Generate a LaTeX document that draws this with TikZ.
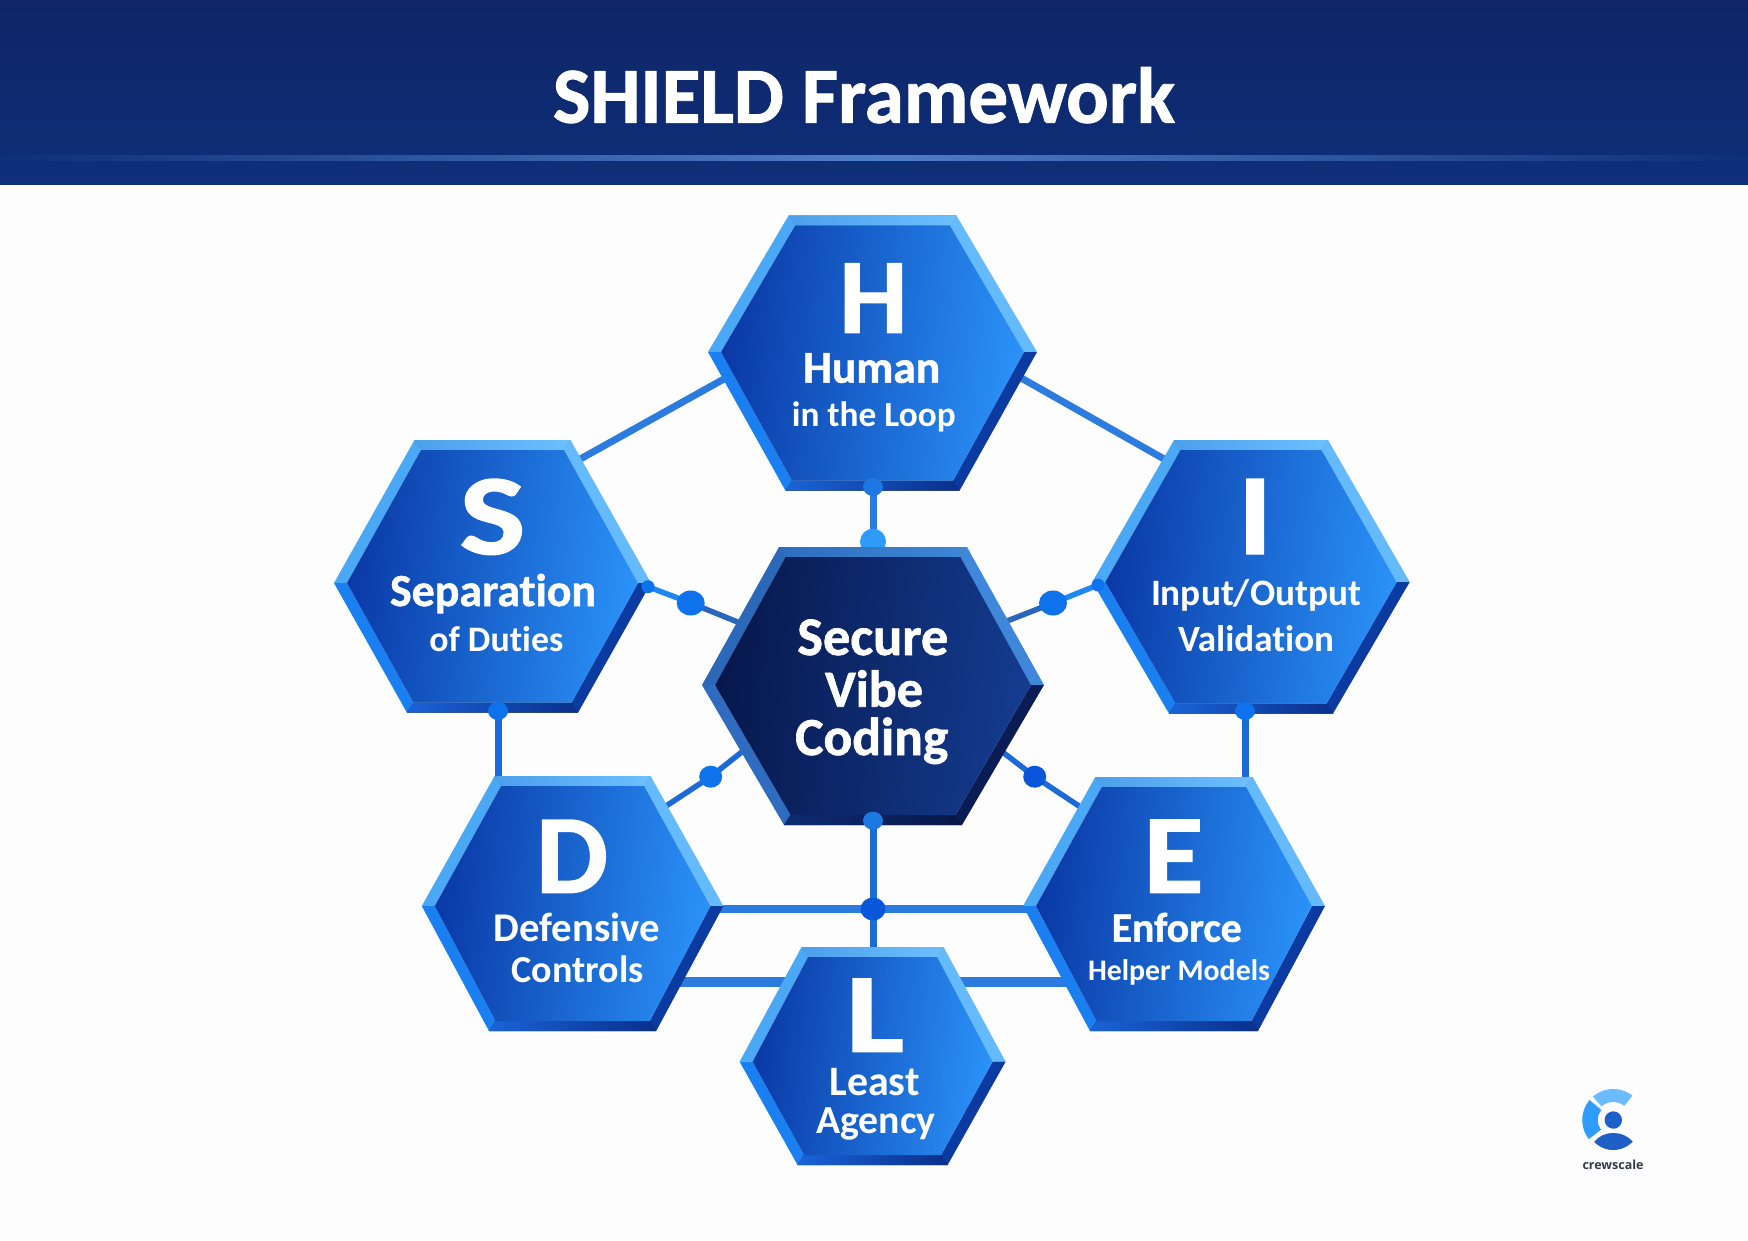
\documentclass[tikz,border=0pt]{standalone}
\usepackage{graphicx}
\usepackage{fontspec}
\setmainfont{Carlito}[Ligatures=NoCommon,BoldFeatures={FakeBold=1.2}]
\newfontfamily\sublabelfont{Carlito}[Ligatures=NoCommon]
\newfontfamily\logofont{Open Sans}
\usetikzlibrary{shapes.geometric,calc}
% blue palette
\definecolor{hbTopL}{HTML}{4C9FEA}\definecolor{hbTopR}{HTML}{6CC0FF}
\definecolor{hbUL}{HTML}{4BA8F4}\definecolor{hbUR}{HTML}{64BAFB}
\definecolor{hbLL}{HTML}{1A80F2}\definecolor{hbLR}{HTML}{0B3AA0}
\definecolor{hbBotL}{HTML}{1A63D8}\definecolor{hbBotR}{HTML}{0A2F8A}
\definecolor{hbInL}{HTML}{0A39A6}\definecolor{hbInR}{HTML}{2A92F8}
% navy palette
\definecolor{hdTopL}{HTML}{2E6EBE}\definecolor{hdTopR}{HTML}{3E86D6}
\definecolor{hdUL}{HTML}{2B68B8}\definecolor{hdUR}{HTML}{3F87DA}
\definecolor{hdLL}{HTML}{2F6CBF}\definecolor{hdLR}{HTML}{0A1C54}
\definecolor{hdBotL}{HTML}{0E2C72}\definecolor{hdBotR}{HTML}{071848}
\definecolor{hdInL}{HTML}{07184C}\definecolor{hdInR}{HTML}{143C90}
\definecolor{pagebg}{HTML}{FDFDFE}
\definecolor{bandTop}{HTML}{0F2565}\definecolor{bandBot}{HTML}{0E2F7A}
\definecolor{bandGlow}{HTML}{507EC6}
\definecolor{linkA}{HTML}{2C7BDE}\definecolor{linkB}{HTML}{1C6AD8}
\definecolor{linkC}{HTML}{2A66BC}\definecolor{linkD}{HTML}{1E88EE}
\definecolor{dotA}{HTML}{0D72EC}\definecolor{dotB}{HTML}{0A56DA}
\definecolor{dotC}{HTML}{1E78E2}\definecolor{dotD}{HTML}{2E9BF8}
\definecolor{logoLight}{HTML}{6ABBFF}\definecolor{logoMid}{HTML}{2E9BFF}
\definecolor{logoDark}{HTML}{1E5FC8}\definecolor{logoText}{HTML}{343A48}
\newcommand\bvx{13}\newcommand\bvy{10}\newcommand\bvt{6.5}
% name, cx, midy, halfwidth, top, bottom, top half, bottom half
\newcommand\hexdef[8]{%
  \coordinate (#1-l) at ({#2-#4},#3);
  \coordinate (#1-r) at ({#2+#4},#3);
  \coordinate (#1-tl) at ({#2-#7},#5);
  \coordinate (#1-tr) at ({#2+#7},#5);
  \coordinate (#1-bl) at ({#2-#8},#6);
  \coordinate (#1-br) at ({#2+#8},#6);
  \coordinate (#1-il) at ({#2-#4+\bvx},#3);
  \coordinate (#1-ir) at ({#2+#4-\bvx},#3);
  \coordinate (#1-itl) at ({#2-#7+\bvt},{#5+\bvy});
  \coordinate (#1-itr) at ({#2+#7-\bvt},{#5+\bvy});
  \coordinate (#1-ibl) at ({#2-#8+\bvt},{#6-\bvy});
  \coordinate (#1-ibr) at ({#2+#8-\bvt},{#6-\bvy});
  \node[hexbox,minimum width={2*#4*1pt},minimum height={(#6-#5)*1pt}] (#1) at (#2,{(#5+#6)/2}) {};
}
\newcommand\hexdraw[2]{%
  \fill[left color=#2TopL,right color=#2TopR] (#1-tl)--(#1-tr)--(#1-itr)--(#1-itl)--cycle;
  \fill[#2UL] (#1-l)--(#1-tl)--(#1-itl)--(#1-il)--cycle;
  \fill[#2UR] (#1-tr)--(#1-r)--(#1-ir)--(#1-itr)--cycle;
  \fill[#2LL] (#1-l)--(#1-il)--(#1-ibl)--(#1-bl)--cycle;
  \fill[#2LR] (#1-r)--(#1-br)--(#1-ibr)--(#1-ir)--cycle;
  \fill[left color=#2BotL,right color=#2BotR] (#1-bl)--(#1-br)--(#1-ibr)--(#1-ibl)--cycle;
  \shade[left color=#2InL,right color=#2InR,shading angle=84] (#1-il)--(#1-itl)--(#1-itr)--(#1-ir)--(#1-ibr)--(#1-ibl)--cycle;
}
\newcommand\fw[2]{\resizebox{#1pt}{!}{\fontsize{40}{48}\selectfont\bfseries #2}}
\newcommand\fws[2]{\resizebox{#1pt}{!}{\fontsize{40}{48}\sublabelfont\selectfont\bfseries #2}}
\newcommand\fwh[3]{\resizebox{#1pt}{#2pt}{\fontsize{40}{48}\selectfont\bfseries #3}}
\tikzset{
  hexbox/.style={rectangle,inner sep=0pt,draw=none,fill=none},
  lbl/.style={text=white,anchor=base,inner sep=0pt,outer sep=0pt},
  link/.style={line width=#1,line cap=butt},
  bigdot/.style={ellipse,inner sep=0pt,outer sep=0pt,minimum width=28pt,minimum height=25pt},
  meddot/.style={ellipse,inner sep=0pt,outer sep=0pt,minimum width=23pt,minimum height=22pt},
  smalldot/.style={ellipse,inner sep=0pt,outer sep=0pt,minimum width=20pt,minimum height=18pt},
}
\begin{document}
\begin{tikzpicture}[x=1pt,y=-1pt]
\useasboundingbox (0,0) rectangle (1748,1240);
\fill[pagebg] (0,0) rectangle (1748,1240);
% header
\fill[top color=bandTop,bottom color=bandBot] (0,0) rectangle (1748,184);
\fill[left color=bandBot,right color=bandBot,middle color=bandGlow] (0,155) rectangle (1748,160);
\node[lbl] (title) at (864,122.7) {\fw{622}{SHIELD Framework}};

\hexdef{H}{872.5}{352}{164.5}{215.7}{490.7}{84}{87}
\hexdef{S}{492.5}{583}{158.5}{440}{712.7}{78}{85.5}
\hexdef{I}{1251}{582}{158.7}{440}{713.5}{77}{82}
\hexdef{C}{873}{685}{171}{547}{825}{94}{89}
\hexdef{D}{572.6}{906}{150.8}{776}{1031}{78}{83.6}
\hexdef{E}{1174}{906}{151}{777}{1031}{78.7}{84}
\hexdef{L}{872.6}{1061.7}{133}{947}{1165}{71}{75}

% ports where links meet the hexagons
\coordinate (H-pw) at (732,374.5);
\coordinate (H-pe) at (1015,374.5);
\coordinate (S-pne) at (574,462.5);
\coordinate (I-pnw) at (1172,463.5);
\coordinate (H-ps) at (873,487);
\coordinate (C-pn) at (873,550);
\coordinate (S-pe) at (648,586.7);
\coordinate (C-pw) at (745,625);
\coordinate (I-pw) at (1098,585);
\coordinate (C-pe) at (1002,623);
\coordinate (S-ps) at (498,711);
\coordinate (D-pn) at (498,782);
\coordinate (I-ps) at (1245,711);
\coordinate (E-pn) at (1245,782);
\coordinate (C-psw) at (748,747);
\coordinate (D-pne) at (660,810);
\coordinate (C-pse) at (996,747);
\coordinate (E-pnw) at (1085,810);
\coordinate (C-ps) at (873,820.7);
\coordinate (L-pn) at (873,952);
\coordinate (D-pe) at (716,909);
\coordinate (E-pw) at (1030,909);
\coordinate (D-pse) at (680,982);
\coordinate (L-pw) at (790,982);
\coordinate (L-pe) at (955,982);
\coordinate (E-psw) at (1070,982);

% dot positions
\coordinate (jSC) at (690.7,603);
\coordinate (jIC) at (1053,603);
\coordinate (jDC) at (710.7,776.7);
\coordinate (jEC) at (1034.7,776.7);
\coordinate (jX) at (873,909);

% links
\draw[link=7pt,linkA] (H-pw)--(S-pne);
\draw[link=7pt,linkA] (H-pe)--(I-pnw);
\draw[link=7pt,linkA] (H-ps)--(C-pn);
\draw[link=5.5pt,linkD] (S-pe)--(jSC);
\draw[link=5.5pt,linkC] (jSC)--(C-pw);
\draw[link=5.5pt,linkD] (I-pw)--(jIC);
\draw[link=5.5pt,linkC] (jIC)--(C-pe);
\draw[link=7pt,linkB] (S-ps)--(D-pn);
\draw[link=7pt,linkB] (I-ps)--(E-pn);
\draw[link=5.5pt,linkB] (C-psw)--(jDC);
\draw[link=5.5pt,linkB] (jDC)--(D-pne);
\draw[link=5.5pt,linkB] (C-pse)--(jEC);
\draw[link=5.5pt,linkB] (jEC)--(E-pnw);
\draw[link=7pt,linkB] (C-ps)--(L-pn);
\draw[link=8pt,linkA] (D-pe)--(E-pw);
\draw[link=9.5pt,linkA] (D-pse)--(L-pw);
\draw[link=9.5pt,linkA] (L-pe)--(E-psw);

% dot hidden partly behind the centre hexagon
\node[ellipse,inner sep=0pt,minimum width=26pt,minimum height=26pt,fill=dotD] (dCn) at (873,541.7) {};

\hexdraw{H}{hb}
\hexdraw{S}{hb}
\hexdraw{I}{hb}
\hexdraw{D}{hb}
\hexdraw{E}{hb}
\hexdraw{L}{hb}
\hexdraw{C}{hd}

% dots
\node[smalldot,fill=dotC] (dHs) at (H-ps) {};
\node[bigdot,fill=dotA] (dSC) at (jSC) {};
\node[bigdot,fill=dotA] (dIC) at (jIC) {};
\node[meddot,fill=dotA] (dDC) at (jDC) {};
\node[meddot,fill=dotB] (dEC) at (jEC) {};
\node[ellipse,inner sep=0pt,minimum width=13pt,minimum height=13pt,fill=dotA] (dSe) at (S-pe) {};
\node[ellipse,inner sep=0pt,minimum width=13pt,minimum height=13pt,fill=dotA] (dIw) at (I-pw) {};
\node[smalldot,fill=dotA] (dSs) at (S-ps) {};
\node[smalldot,fill=dotA] (dIs) at (I-ps) {};
\node[smalldot,fill=dotC] (dCs) at (C-ps) {};
\node[ellipse,inner sep=0pt,minimum width=25pt,minimum height=23pt,fill=dotB] (dX) at (jX) {};

% labels
\node[lbl] (H-a) at (873.3,332.7) {\fwh{68}{69.3}{H}};
\node[lbl] (H-b) at (871.7,382.7) {\fw{137}{Human}};
\node[lbl] (H-c) at (873.8,426.7) {\fws{164}{in the Loop}};
\node[lbl] (S-a) at (492.5,554) {\fwh{66}{75}{S}};
\node[lbl] (S-b) at (493,606) {\fw{206}{Separation}};
\node[lbl] (S-c) at (496.3,651.7) {\fws{134}{of Duties}};
\node[lbl] (I-a) at (1255,554) {\fwh{34}{75}{I}};
\node[lbl] (I-b) at (1256,605) {\fws{210}{Input/Output}};
\node[lbl] (I-c) at (1256,651) {\fws{156}{Validation}};
\node[lbl] (C-a) at (872.8,655) {\fw{151}{Secure}};
\node[lbl] (C-b) at (874,706.7) {\fw{98}{Vibe}};
\node[lbl] (C-c) at (871.7,755) {\fw{153}{Coding}};
\node[lbl] (D-a) at (572,892.7) {\fwh{72}{72.7}{D}};
\node[lbl] (D-b) at (577,941) {\fws{166.5}{Defensive}};
\node[lbl] (D-c) at (577.8,982.7) {\fws{132}{Controls}};
\node[lbl] (E-a) at (1173.5,892.7) {\fwh{60}{73}{E}};
\node[lbl] (E-b) at (1176.7,941.7) {\fw{130}{Enforce}};
\node[lbl] (E-c) at (1179,980) {\fws{182}{Helper Models}};
\node[lbl] (L-a) at (875,1051.7) {\fwh{58}{73}{L}};
\node[lbl] (L-b) at (874.5,1095) {\fws{90.3}{Least}};
\node[lbl] (L-c) at (876,1133) {\fws{119.4}{Agency}};

% logo
\fill[logoLight] plot[domain=131:52,samples=24] ({1613.3+31*cos(\x)},{1120-31*sin(\x)})
  -- plot[domain=52:131,samples=24] ({1613.3+18*cos(\x)},{1120-18*sin(\x)}) -- cycle;
\fill[logoMid] plot[domain=140:218,samples=24] ({1613.3+31*cos(\x)},{1120-31*sin(\x)})
  -- plot[domain=218:140,samples=24] ({1613.3+15.5*cos(\x)},{1120-15.5*sin(\x)}) -- cycle;
\fill[logoDark] plot[domain=-133:-46,samples=24] ({1613.3+28*cos(\x)},{1120-30*sin(\x)})
  .. controls (1623,1130) and (1603,1130) .. cycle;
\node[circle,inner sep=0pt,minimum size=17.4pt,fill=logoDark] (logodot) at (1613.3,1120) {};
\node[anchor=base,inner sep=0pt,text=logoText] (logotext) at (1613,1169) {\resizebox{61pt}{!}{\logofont\bfseries crewscale}};
\end{tikzpicture}
\end{document}
